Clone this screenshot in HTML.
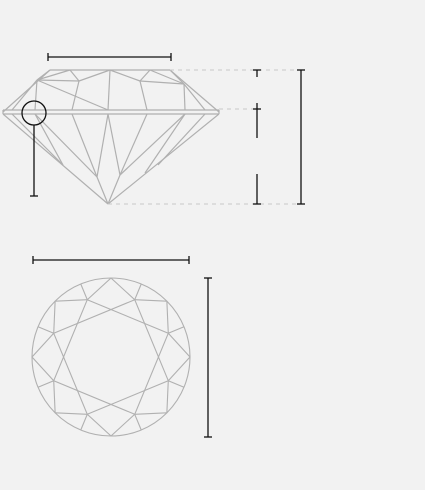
<!DOCTYPE html>
<html><head><meta charset="utf-8"><style>
html,body{margin:0;padding:0;background:#f2f2f2;}
svg{display:block;}
</style></head><body>
<svg id="s" width="425" height="490" viewBox="0 0 425 490" xmlns="http://www.w3.org/2000/svg">
<rect width="425" height="490" fill="#f2f2f2"/>
<g id="side" fill="none" stroke="#b0b0b0" stroke-width="1.2"></g>
<g id="top" fill="none" stroke="#b0b0b0" stroke-width="1.1"></g>
<g fill="none" stroke="#c8c8c8" stroke-width="1" stroke-dasharray="4,4">
<line x1="170" y1="70" x2="305" y2="70"/>
<line x1="219" y1="109" x2="257" y2="109"/>
<line x1="108" y1="204" x2="305" y2="204"/>
</g>
<g fill="none" stroke="#111" stroke-width="1.3">
<g><line x1="48" y1="57" x2="171" y2="57"/><line x1="48" y1="53" x2="48" y2="61"/><line x1="171" y1="53" x2="171" y2="61"/></g>
<g><circle cx="34" cy="113" r="12"/><line x1="34" y1="125" x2="34" y2="196"/><line x1="30" y1="196" x2="38" y2="196"/></g>
<g><line x1="257" y1="70" x2="257" y2="77"/><line x1="253" y1="70" x2="261" y2="70"/></g>
<g><line x1="257" y1="103" x2="257" y2="138"/><line x1="253" y1="109" x2="261" y2="109"/></g>
<g><line x1="257" y1="174" x2="257" y2="204"/><line x1="253" y1="204" x2="261" y2="204"/></g>
<g><line x1="301" y1="70" x2="301" y2="204"/><line x1="297" y1="70" x2="305" y2="70"/><line x1="297" y1="204" x2="305" y2="204"/></g>
<g><line x1="33" y1="260" x2="189" y2="260"/><line x1="33" y1="256" x2="33" y2="264"/><line x1="189" y1="256" x2="189" y2="264"/></g>
<g><line x1="208" y1="278" x2="208" y2="437"/><line x1="204" y1="278" x2="212" y2="278"/><line x1="204" y1="437" x2="212" y2="437"/></g>
</g>
</svg>
<script>
const NS="http://www.w3.org/2000/svg";
function ln(g,a,b){const l=document.createElementNS(NS,"line");
l.setAttribute("x1",a[0]);l.setAttribute("y1",a[1]);l.setAttribute("x2",b[0]);l.setAttribute("y2",b[1]);


g.appendChild(l);}
// side view
const sg=document.getElementById("side");
const segs=[
[[50,70],[170,70]],[[3,110],[219,110]],[[3,114],[219,114]],[[3,110],[3,114]],[[219,110],[219,114]],
[[3,112],[50,70]],[[219,112],[170,70]],
[[12,110],[37,80]],[[35,110],[37,80]],[[37,80],[50,70]],[[37,80],[70,70]],[[37,80],[79,81]],[[70,70],[79,81]],
[[79,81],[72,110]],[[79,81],[110,70]],[[110,70],[108,110]],[[110,70],[140,81]],[[140,81],[150,70]],
[[140,81],[147,110]],[[140,81],[184,84]],[[150,70],[184,84]],[[170,70],[184,84]],[[184,84],[185,110]],[[184,84],[205,110]],
[[37,80],[108,110]],
[[3,114],[108,204]],[[219,114],[108,204]],
[[12,114],[63,165]],[[35,114],[97,177]],[[72,114],[97,177]],[[108,114],[97,177]],[[97,177],[108,204]],
[[108,114],[120,175]],[[147,114],[120,175]],[[120,175],[108,204]],
[[185,114],[145,173]],[[205,114],[158,165]],[[35,114],[63,165]],[[185,114],[120,175]]
];
segs.forEach(s=>ln(sg,s[0],s[1]));
// top view
const tg=document.getElementById("top");
const cx=111,cy=357,R=79,r=62;
const c=document.createElementNS(NS,"circle");c.setAttribute("cx",cx);c.setAttribute("cy",cy);c.setAttribute("r",R);


tg.appendChild(c);
function P(rad,deg){const a=deg*Math.PI/180;return [cx+rad*Math.sin(a),cy-rad*Math.cos(a)];}
for(let k=0;k<8;k++){
 const a=22.5+45*k;
 const v=P(r,a);
 ln(tg,v,P(r,a+90));
 ln(tg,v,P(R,a-22.5));ln(tg,v,P(R,a));ln(tg,v,P(R,a+22.5));
}
</script>
</body></html>
